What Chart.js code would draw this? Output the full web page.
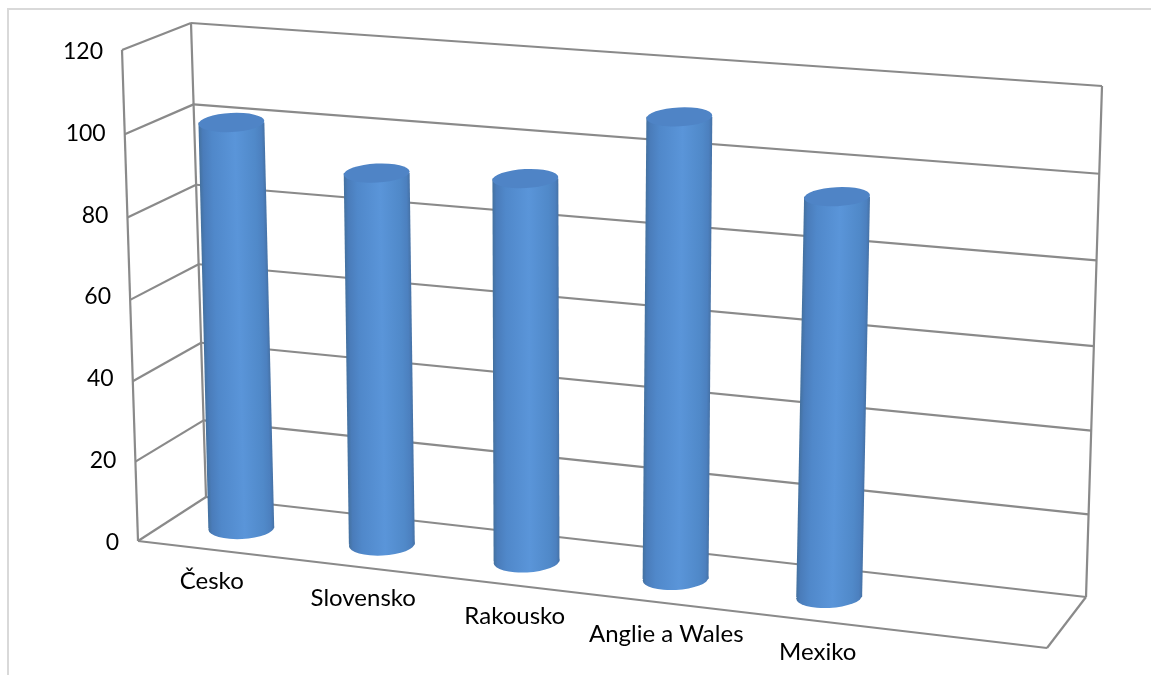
<!DOCTYPE html>
<html>
<head>
<meta charset="utf-8">
<script src="https://cdn.jsdelivr.net/npm/chart.js@4"></script>
<style>
    html, body { margin: 0; padding: 0; background: #fff; overflow: hidden; }
    canvas { display: block; }
</style>
</head>
<body>
<canvas id="chart" width="1151" height="675"></canvas>
<script>
// The last category is empty in the source chart
const categories = ['Česko', 'Slovensko', 'Rakousko', 'Anglie a Wales', 'Mexiko', ''];
const values = [102.3, 92.7, 94.2, 111.5, 95.7, null];
const yMax = 120;
const yStep = 20;

// Outline of the 3D box, in page pixels
const FRONT_BOTTOM_LEFT = [138, 541];
const FRONT_TOP_LEFT = [122, 50];
const FRONT_BOTTOM_RIGHT = [1047, 648];
const BACK_BOTTOM_LEFT = [206, 497];
const BACK_TOP_LEFT = [191, 23];
const BACK_BOTTOM_RIGHT = [1086, 597];
const BACK_TOP_RIGHT = [1102, 86];
// Plane the cylinders stand in: bottom left, bottom right, top right, top left
const BAR_PLANE = [[172.5, 520], [1068.5, 625], [1088, 108], [158.5, 45]];
// Gridlines sit a little closer together near the floor
const GRID_WARP = -0.035;

const LINE_COLOR = '#8a8a8a';
const BORDER_COLOR = '#d9d9d9';
const FONT = 'Lato, "Open Sans", sans-serif';

function lerp(a, b, t) {
    return [a[0] + (b[0] - a[0]) * t, a[1] + (b[1] - a[1]) * t];
}

function warp(t) {
    return t * (1 + GRID_WARP) / (1 + GRID_WARP * t);
}

// Unit square to quad, so spacing gets wider towards the viewer
function makeProjection(quad) {
    const [[x0, y0], [x1, y1], [x2, y2], [x3, y3]] = quad;
    const sx = x0 - x1 + x2 - x3, sy = y0 - y1 + y2 - y3;
    const dx1 = x1 - x2, dx2 = x3 - x2, dy1 = y1 - y2, dy2 = y3 - y2;
    const det = dx1 * dy2 - dx2 * dy1;
    const g = (sx * dy2 - dx2 * sy) / det;
    const h = (dx1 * sy - sx * dy1) / det;
    const a = x1 - x0 + g * x1, b = x3 - x0 + h * x3;
    const d = y1 - y0 + g * y1, e = y3 - y0 + h * y3;
    return (u, v) => {
        const w = g * u + h * v + 1;
        return [(a * u + b * v + x0) / w, (d * u + e * v + y0) / w];
    };
}
const projectBar = makeProjection(BAR_PLANE);

function line(ctx, from, to) {
    ctx.beginPath();
    ctx.moveTo(from[0], from[1]);
    ctx.lineTo(to[0], to[1]);
    ctx.stroke();
}

function drawCylinder(ctx, bottom, top, rx) {
    const tilt = -0.05;
    const mid = lerp(bottom, top, 0.5);
    const h = (bottom[1] - top[1]) / 2;
    const axisLean = (top[0] - bottom[0]) / (bottom[1] - top[1]);
    const grad = ctx.createLinearGradient(mid[0] - rx, 0, mid[0] + rx, 0);
    grad.addColorStop(0, '#44719f');
    grad.addColorStop(0.06, '#4a7cba');
    grad.addColorStop(0.2, '#5088ca');
    grad.addColorStop(0.55, '#5a95d9');
    grad.addColorStop(0.85, '#5089c9');
    grad.addColorStop(0.95, '#4c80bf');
    grad.addColorStop(1, '#4672a6');

    // Draw the body in the leaning frame so the shading follows its edges
    ctx.save();
    ctx.translate(mid[0], mid[1]);
    ctx.transform(1, 0, -axisLean, 1, 0, 0);
    ctx.translate(-mid[0], -mid[1]);
    ctx.fillStyle = grad;
    ctx.fillRect(mid[0] - rx, mid[1] - h, rx * 2, h * 2);
    ctx.beginPath();
    ctx.ellipse(mid[0], mid[1] + h, rx, 11, tilt, 0, Math.PI * 2);
    ctx.fill();
    ctx.restore();

    ctx.fillStyle = '#4f84c6';
    ctx.beginPath();
    ctx.ellipse(top[0], top[1], rx, 9.5, tilt, 0, Math.PI * 2);
    ctx.fill();
}

const box3d = {
    id: 'box3d',
    beforeDatasetsDraw(chart) {
        const ctx = chart.ctx;
        const yScale = chart.scales.y;

        ctx.save();
        ctx.strokeStyle = BORDER_COLOR;
        ctx.lineWidth = 2;
        line(ctx, [7, 9], [1151, 9]);
        line(ctx, [8, 9], [8, 675]);

        ctx.strokeStyle = LINE_COLOR;
        ctx.lineWidth = 2.2;
        yScale.ticks.forEach(tick => {
            const t = warp(tick.value / yMax);
            const front = lerp(FRONT_BOTTOM_LEFT, FRONT_TOP_LEFT, t);
            const back = lerp(BACK_BOTTOM_LEFT, BACK_TOP_LEFT, t);
            const right = lerp(BACK_BOTTOM_RIGHT, BACK_TOP_RIGHT, t);
            line(ctx, front, back);
            line(ctx, back, right);
        });
        line(ctx, FRONT_BOTTOM_LEFT, FRONT_TOP_LEFT);
        line(ctx, BACK_BOTTOM_LEFT, BACK_TOP_LEFT);
        line(ctx, BACK_BOTTOM_RIGHT, BACK_TOP_RIGHT);
        line(ctx, FRONT_BOTTOM_LEFT, FRONT_BOTTOM_RIGHT);
        line(ctx, FRONT_BOTTOM_RIGHT, BACK_BOTTOM_RIGHT);
        ctx.restore();
    },
    afterDatasetsDraw(chart) {
        const ctx = chart.ctx;
        const area = chart.chartArea;
        const xScale = chart.scales.x;
        const yScale = chart.scales.y;
        const toU = x => (x - area.left) / (area.right - area.left);
        const toV = y => (area.bottom - y) / (area.bottom - area.top);

        ctx.save();
        chart.getDatasetMeta(0).data.forEach((bar, i) => {
            if (values[i] === null) return;
            const u = toU(bar.x);
            drawCylinder(ctx, projectBar(u, 0), projectBar(u, toV(bar.y)), bar.width / 2);
        });

        ctx.fillStyle = '#000';
        ctx.textBaseline = 'middle';
        ctx.textAlign = 'right';
        ctx.font = '23px ' + FONT;
        yScale.ticks.forEach(tick => {
            const p = lerp(FRONT_BOTTOM_LEFT, FRONT_TOP_LEFT, tick.value / yMax);
            ctx.fillText(tick.label, p[0] - 19, yScale.getPixelForValue(tick.value) + 1.5);
        });

        ctx.textAlign = 'center';
        ctx.font = '24px ' + FONT;
        categories.forEach((name, i) => {
            const p = lerp(FRONT_BOTTOM_LEFT, FRONT_BOTTOM_RIGHT, toU(xScale.getPixelForValue(i)));
            ctx.fillText(name, p[0] - 2, p[1] + 31);
        });
        ctx.restore();
    }
};

new Chart(document.getElementById('chart'), {
    type: 'bar',
    data: {
        labels: categories,
        datasets: [{
            data: values,
            backgroundColor: 'rgba(0,0,0,0)',
            categoryPercentage: 1,
            barPercentage: 0.435
        }]
    },
    options: {
        responsive: false,
        animation: false,
        events: [],
        layout: { padding: { left: 138, right: 104, top: 50, bottom: 134 } },
        plugins: { legend: { display: false }, title: { display: false }, tooltip: { enabled: false } },
        scales: {
            x: { display: false },
            y: { display: false, min: 0, max: yMax, ticks: { stepSize: yStep } }
        }
    },
    plugins: [box3d]
});
</script>
</body>
</html>
